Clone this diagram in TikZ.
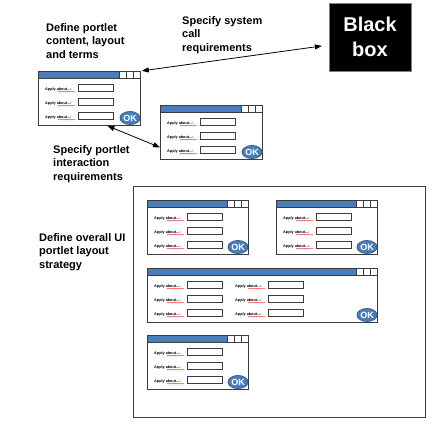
\documentclass[tikz,border=0pt]{standalone}
\usepackage{fontspec}
\setmainfont{Liberation Sans}
\usetikzlibrary{arrows.meta,shapes.geometric,decorations.pathmorphing}

\definecolor{barblue}{RGB}{74,126,187}
\definecolor{okedge}{RGB}{56,93,138}
\definecolor{winedge}{RGB}{60,60,60}

\tikzset{
  win/.style={draw=winedge, line width=0.8pt, fill=white, minimum height=54pt, inner sep=0pt},
  field/.style={draw=winedge, line width=0.7pt, fill=white},
  lbl/.style={font=\fontsize{3.8}{4}\selectfont\bfseries, inner sep=0pt},
  squig/.style={red!80, line width=0.3pt, decorate, decoration={snake, amplitude=0.45pt, segment length=1.6pt}},
  okbtn/.style={ellipse, draw=okedge, line width=0.8pt, fill=barblue, text=white, inner sep=0pt,
    minimum width=20pt, minimum height=13pt, font=\fontsize{9}{9}\selectfont\bfseries},
  caption/.style={font=\fontsize{11}{13.5}\selectfont\bfseries, align=left, inner sep=0pt, anchor=north west},
  dbl/.style={{Triangle[length=7pt,width=5pt]}-{Triangle[length=7pt,width=5pt]}, line width=0.8pt}
}

% portlet window: name, x, y, width, label columns
\newcommand{\portlet}[5]{%
  \begin{scope}[shift={(#2,#3)}]
    \node[win, minimum width=#4pt, anchor=north west] (#1) at (0,0) {};
    % title bar and the three little buttons
    \draw[winedge, fill=barblue, line width=0.6pt] (0,0) rectangle (#4-21,7);
    \foreach \i in {1, 2, 3} {
      \draw[winedge, fill=white, line width=0.6pt] (#4-7*\i,0) rectangle ++(7,7);
    }
    % label and input field rows
    \foreach \c in {#5} {
      \foreach \r in {13, 27, 41} {
        \node[lbl, anchor=base west] (#1-l\c-\r) at (\c+7,\r+6.5) {Apply about...:};
        \draw[squig] (\c+20,\r+7.6) -- (\c+37,\r+7.6);
        \draw[field] (\c+40,\r) rectangle ++(35,7);
      }
    }
    \node[okbtn] (#1-ok) at (#4-10,47) {OK};
  \end{scope}
}

\begin{document}
\begin{tikzpicture}[x=1pt, y=-1pt]
    \useasboundingbox (0,0) rectangle (428,421);

    % Black box
    \node[fill=black, draw=gray, minimum width=82pt, minimum height=68pt, text=white,
      align=center, font=\fontsize{20}{25}\selectfont\bfseries] (blackbox) at (370,37) {Black\\box};

    % Captions
    \node[caption] (cap-content) at (46,23) {Define portlet\\content, layout\\and terms};
    \node[caption] (cap-system) at (182,16) {Specify system\\call\\requirements};
    \node[caption] (cap-interact) at (53,145) {Specify portlet\\interaction\\requirements};
    \node[caption] (cap-layout) at (39,233) {Define overall UI\\portlet layout\\strategy};

    % Single portlets
    \portlet{single}{38}{71}{102}{0}
    \portlet{partner}{160}{105}{102}{0}

    % Overall layout frame
    \draw[draw=winedge, line width=0.9pt] (133,186) rectangle (425,417);
    \portlet{lay-a}{147}{200}{101}{0}
    \portlet{lay-b}{276}{200}{101}{0}
    \portlet{lay-c}{147}{268}{230}{0, 81}
    \portlet{lay-d}{147}{335}{101}{0}

    % Connectors
    \draw[dbl, shorten <=7pt, shorten >=1pt] ([yshift=-8pt]blackbox.west) -- (single.north east);
    \draw[dbl] ([xshift=18pt]single.south) -- ([yshift=-15pt]partner.west);

\end{tikzpicture}
\end{document}
